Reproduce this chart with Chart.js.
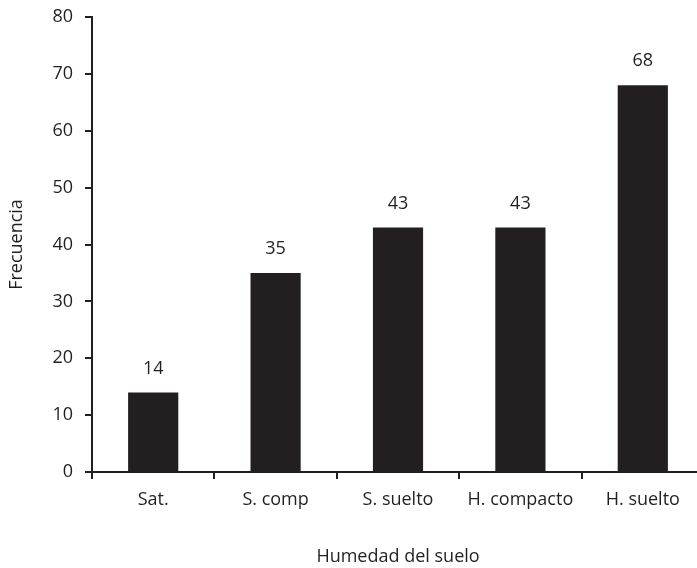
<!DOCTYPE html>
<html>
<head>
<meta charset="utf-8">
<script src="https://cdn.jsdelivr.net/npm/chart.js@4.4.0/dist/chart.umd.min.js"></script>
<style>
html,body{margin:0;padding:0;overflow:hidden;background:#fff;}
#wrap{width:710px;height:568px;}
</style>
</head>
<body>
<div id="wrap"><canvas id="c" width="710" height="568"></canvas></div>
<script>
const categories = ["Sat.", "S. comp", "S. suelto", "H. compacto", "H. suelto"];
const frecuencia = [14, 35, 43, 43, 68];
const yTicks = [0, 10, 20, 30, 40, 50, 60, 70, 80];

const INK = '#231f20';
const FONT = "'Open Sans', 'Noto Sans', sans-serif";

const labelPlugin = {
  id: 'barLabels',
  afterDatasetsDraw(chart) {
    const ctx = chart.ctx;
    const meta = chart.getDatasetMeta(0);
    ctx.save();
    ctx.fillStyle = INK;
    ctx.font = "18px " + FONT;
    ctx.textAlign = 'center';
    ctx.textBaseline = 'middle';
    meta.data.forEach((bar, i) => {
      ctx.fillText(String(frecuencia[i]), bar.x, bar.y - 24);
    });
    ctx.restore();
  }
};

new Chart(document.getElementById('c'), {
  type: 'bar',
  data: {
    labels: categories,
    datasets: [{
      data: frecuencia,
      backgroundColor: INK,
      borderWidth: 0,
      categoryPercentage: 1.0,
      barPercentage: 0.41
    }]
  },
  options: {
    responsive: false,
    animation: false,
    devicePixelRatio: 1,
    layout: { padding: { top: 17, right: 6, left: 0, bottom: 0 } },
    plugins: { legend: { display: false }, tooltip: { enabled: false } },
    scales: {
      x: {
        grid: { offset: true, drawOnChartArea: false, drawTicks: true, tickLength: 7, color: INK, lineWidth: 2 },
        border: { display: true, color: INK, width: 2 },
        ticks: { color: INK, font: { family: FONT, size: 18 }, padding: 10, maxRotation: 0 },
        title: { display: true, text: 'Humedad del suelo', color: INK, font: { family: FONT, size: 18 }, padding: { top: 22, bottom: 0 } },
        afterFit(s) { s.height = 96; s.paddingLeft = 0; s.paddingRight = 0; }
      },
      y: {
        min: 0, max: 80,
        afterBuildTicks(s) { s.ticks = yTicks.map(v => ({ value: v })); },
        grid: { drawOnChartArea: false, drawTicks: true, tickLength: 7, color: INK, lineWidth: 2 },
        border: { display: true, color: INK, width: 2 },
        ticks: { color: INK, font: { family: FONT, size: 18 }, padding: 12 },
        title: { display: true, text: 'Frecuencia', color: INK, font: { family: FONT, size: 18 }, padding: { top: 6, bottom: 8 } },
        afterFit(s) { s.width = 92; s.paddingTop = 0; s.paddingBottom = 0; }
      }
    }
  },
  plugins: [labelPlugin]
});
</script>
</body>
</html>
